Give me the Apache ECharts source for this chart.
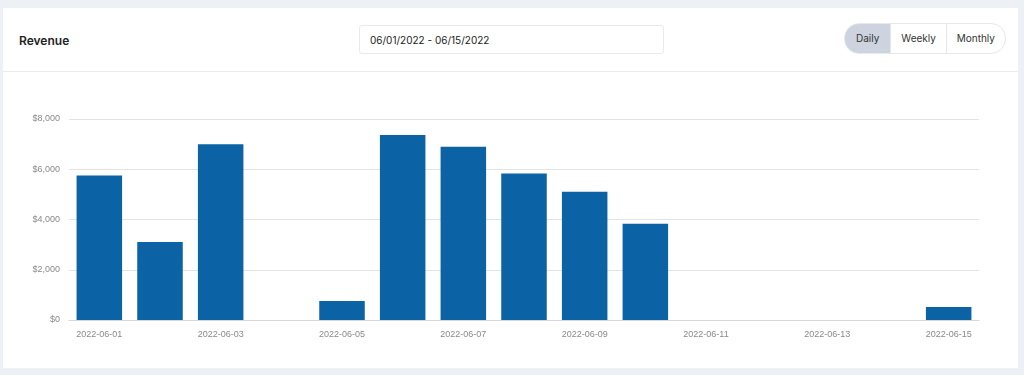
<!DOCTYPE html>
<html><head><meta charset="utf-8">
<script src="https://cdn.jsdelivr.net/npm/echarts@6/dist/echarts.min.js"></script>
<style>
html,body{margin:0;padding:0;background:#edf0f4;width:1024px;height:375px;overflow:hidden;font-family:Inter,"Open Sans",sans-serif;}
#card{position:absolute;left:3px;top:8px;width:1015px;height:360px;background:#fff;}
#hdr{position:absolute;left:0;top:0;width:1015px;height:63px;border-bottom:1px solid #e9ecef;}
#title{position:absolute;left:16px;top:25px;font-size:12px;font-weight:600;color:#222;}
#date{position:absolute;left:356px;top:17px;height:29px;border:1px solid #e8eaee;border-radius:3px;font-size:10px;color:#222;line-height:29px;padding-left:10px;box-sizing:border-box;width:305px;}
#btns{position:absolute;left:841px;top:15px;height:29px;width:160px;border:1px solid #e5e8ec;border-radius:15px;overflow:hidden;display:flex;font-size:10px;color:#333;}
#btns div{line-height:29px;text-align:center;border-left:1px solid #e5e8ec;}
#btns div.a{background:#cdd3df;border-left:none;}
#chart{position:absolute;left:0;top:64px;width:1015px;height:296px;}
</style></head>
<body>
<div id="card">
 <div id="hdr">
  <div id="title">Revenue</div>
  <div id="date">06/01/2022 - 06/15/2022</div>
  <div id="btns"><div class="a" style="width:46px">Daily</div><div style="width:55px">Weekly</div><div style="width:59px">Monthly</div></div>
 </div>
 <div id="chart"></div>
</div>
<script>
const categories = ['2022-06-01','2022-06-02','2022-06-03','2022-06-04','2022-06-05','2022-06-06','2022-06-07','2022-06-08','2022-06-09','2022-06-10','2022-06-11','2022-06-12','2022-06-13','2022-06-14','2022-06-15'];
const revenue = [5750,3100,7000,0,760,7360,6900,5830,5100,3830,0,0,0,0,520];
const yTicks = [0,2000,4000,6000,8000];

const chart = echarts.init(document.getElementById('chart'));
chart.setOption({
  animation:false,
  grid:{left:66,right:39,top:47,bottom:48},
  xAxis:{type:'category',data:categories,
    axisLine:{lineStyle:{color:'#d8d8d8'}},axisTick:{show:false},
    axisLabel:{interval:1,color:'#8a8a8a',fontSize:9,fontFamily:'Liberation Sans, Arial',margin:10}},
  yAxis:{type:'value',min:yTicks[0],max:yTicks[yTicks.length-1],interval:2000,
    axisLine:{show:false},axisTick:{show:false},
    splitLine:{lineStyle:{color:'#e3e3e3'}},
    axisLabel:{color:'#8a8a8a',fontSize:9,fontFamily:'Liberation Sans, Arial',margin:9,
      formatter:v=>'$'+v.toLocaleString('en-US')}},
  series:[{type:'bar',data:revenue,barWidth:'75%',
    itemStyle:{color:'#0b62a4'}}]
});
</script>
</body></html>
